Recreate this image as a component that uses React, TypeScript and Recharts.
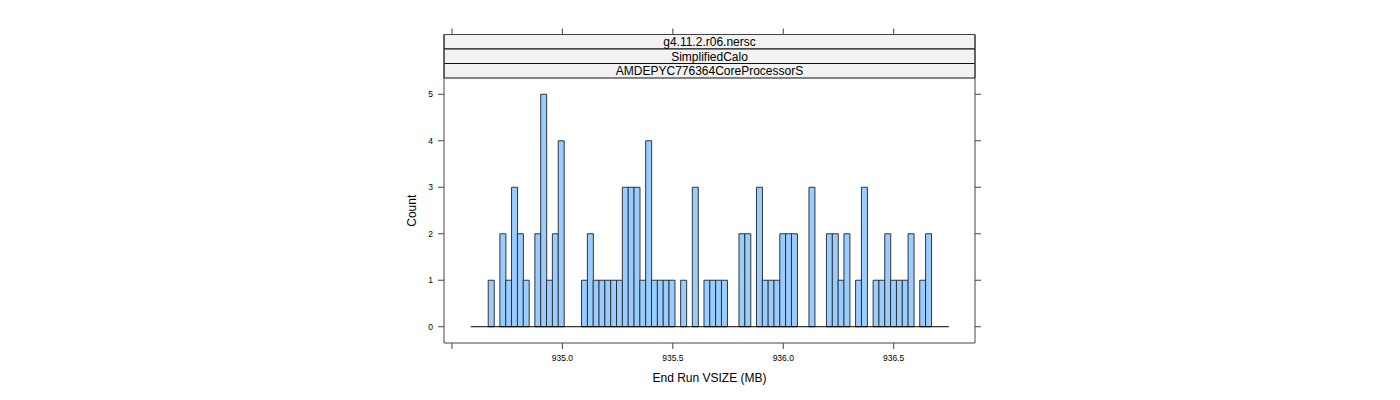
import React from "react";
import {
  ComposedChart,
  Bar,
  XAxis,
  YAxis,
  ReferenceArea,
  ReferenceLine,
} from "recharts";

// histogram breaks (MB) and counts per bin
const BIN_START = 934.585;
const BIN_WIDTH = 0.0264;
const COUNTS = [
  0, 0, 0, 1, 0, 2, 1, 3, 2, 1,
  0, 2, 5, 1, 2, 4, 0, 0, 0, 1,
  2, 1, 1, 1, 1, 1, 3, 3, 3, 1,
  4, 1, 1, 1, 1, 0, 1, 0, 3, 0,
  1, 1, 1, 1, 0, 0, 2, 2, 0, 3,
  1, 1, 1, 2, 2, 2, 0, 0, 3, 0,
  0, 2, 2, 1, 2, 0, 1, 3, 0, 1,
  1, 2, 1, 1, 1, 2, 0, 1, 2, 0,
  0, 0,
];

const X_TICKS = [934.5, 935.0, 935.5, 936.0, 936.5];
const X_TICK_LABELS = ["", "935.0", "935.5", "936.0", "936.5"];
const Y_TICKS = [0, 1, 2, 3, 4, 5];
const STRIP_LABELS = [
  "g4.11.2.r06.nersc",
  "SimplifiedCalo",
  "AMDEPYC776364CoreProcessorS",
];

const X_DOMAIN = [934.464, 936.868];
const Y_DOMAIN = [-0.35, 6.286];
const STRIP_BASE = 5.35;
const STRIP_HEIGHT = 0.312;

const FONT = "'Liberation Sans', Arial, sans-serif";
const BOX = "#444";

const BIN_END = BIN_START + COUNTS.length * BIN_WIDTH;
const data = COUNTS.map((count, i) => ({
  mid: BIN_START + (i + 0.5) * BIN_WIDTH,
  count,
}));

const CountLabel = (props: any) => {
  const { viewBox } = props;
  const x = viewBox.x + 7.5;
  const y = viewBox.y + viewBox.height / 2 + 22;
  return (
    <text
      x={x}
      y={y}
      transform={`rotate(-90, ${x}, ${y})`}
      textAnchor="middle"
      dominantBaseline="central"
      fontSize={12}
      fontFamily={FONT}
      fill="#000"
    >
      Count
    </text>
  );
};

const blank = () => "";

export default function App() {
  return (
    <div style={{ width: 1400, height: 400, fontFamily: FONT }}>
      <style>{`body{margin:0}`}</style>
      <ComposedChart
        width={1400}
        height={400}
        data={data}
        margin={{ top: 24.5, right: 415, bottom: 12, left: 404 }}
        barCategoryGap={0}
        barGap={0}
      >
        <XAxis
          dataKey="mid"
          type="number"
          domain={X_DOMAIN}
          allowDataOverflow
          ticks={X_TICKS}
          tickFormatter={(v: number) => X_TICK_LABELS[X_TICKS.indexOf(v)] ?? ""}
          height={45}
          tickSize={6}
          tickMargin={6}
          interval={0}
          stroke={BOX}
          tick={{ fontSize: 8.5, fill: "#000", fontFamily: FONT }}
          label={{
            value: "End Run VSIZE (MB)",
            position: "insideBottom",
            offset: 6,
            fontSize: 12,
            fill: "#000",
            fontFamily: FONT,
          }}
        />
        <XAxis
          xAxisId="top"
          orientation="top"
          dataKey="mid"
          type="number"
          domain={X_DOMAIN}
          allowDataOverflow
          ticks={X_TICKS}
          height={10}
          tickSize={6}
          tickFormatter={blank}
          tick={{ fontSize: 8.5 }}
          interval={0}
          stroke={BOX}
        />
        <YAxis
          type="number"
          domain={Y_DOMAIN}
          allowDataOverflow
          ticks={Y_TICKS}
          width={40}
          tickSize={6}
          tickMargin={5}
          interval={0}
          stroke={BOX}
          tick={{ fontSize: 8.5, fill: "#000", fontFamily: FONT }}
          label={<CountLabel />}
        />
        <YAxis
          yAxisId="right"
          orientation="right"
          type="number"
          domain={Y_DOMAIN}
          allowDataOverflow
          ticks={Y_TICKS}
          width={10}
          tickSize={6}
          tickFormatter={blank}
          tick={{ fontSize: 8.5 }}
          interval={0}
          stroke={BOX}
        />
        {STRIP_LABELS.map((label, i) => (
          <ReferenceArea
            key={label}
            y1={STRIP_BASE + (STRIP_LABELS.length - 1 - i) * STRIP_HEIGHT}
            y2={STRIP_BASE + (STRIP_LABELS.length - i) * STRIP_HEIGHT}
            fill="#F2F2F2"
            fillOpacity={1}
            stroke="#111"
            strokeWidth={1}
            label={{
              value: label,
              position: "center",
              fontSize: 12,
              fill: "#000",
              fontFamily: FONT,
            }}
          />
        ))}
        <ReferenceLine
          segment={[
            { x: BIN_START, y: 0 },
            { x: BIN_END, y: 0 },
          ]}
          stroke="#000"
          strokeWidth={1}
        />
        <Bar
          dataKey="count"
          fill="#99CCFF"
          stroke="#222"
          strokeWidth={0.9}
          isAnimationActive={false}
        />
      </ComposedChart>
    </div>
  );
}
